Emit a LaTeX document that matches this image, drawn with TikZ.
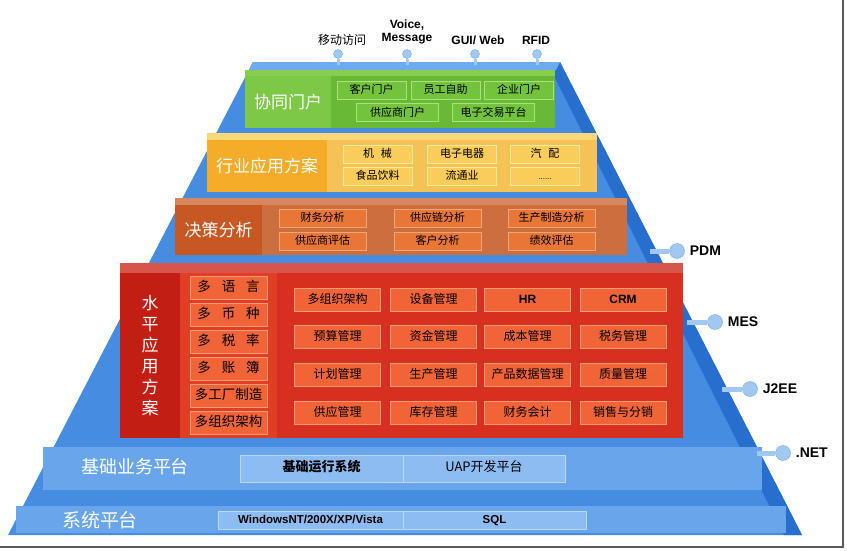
\documentclass[tikz,border=0pt]{standalone}
\usepackage{fontspec}
\setmainfont{Liberation Sans}
\newfontfamily\cjk{Noto Sans CJK SC}
\usetikzlibrary{positioning}
\definecolor{pyrblue}{RGB}{70,140,225}
\definecolor{pyrdark}{RGB}{40,110,205}
\definecolor{pyrtop}{RGB}{110,170,240}
\definecolor{bandblue}{RGB}{105,165,235}
\definecolor{boxblue}{RGB}{140,188,242}
\definecolor{boxedge}{RGB}{185,215,250}
\definecolor{pinblue}{RGB}{160,200,240}
\definecolor{pinedge}{RGB}{120,170,225}
\definecolor{grnpanel}{RGB}{105,185,55}
\definecolor{grntop}{RGB}{135,205,80}
\definecolor{grntitle}{RGB}{125,200,70}
\definecolor{grnitem}{RGB}{115,195,60}
\definecolor{grnedge}{RGB}{170,225,120}
\definecolor{ylwpanel}{RGB}{245,195,85}
\definecolor{ylwtop}{RGB}{250,215,120}
\definecolor{ylwtitle}{RGB}{245,172,40}
\definecolor{ylwitem}{RGB}{250,205,90}
\definecolor{ylwedge}{RGB}{255,235,160}
\definecolor{orgpanel}{RGB}{205,110,62}
\definecolor{orgtop}{RGB}{215,135,95}
\definecolor{orgtitle}{RGB}{200,88,35}
\definecolor{orgitem}{RGB}{232,118,55}
\definecolor{orgedge}{RGB}{245,165,115}
\definecolor{redpanel}{RGB}{215,48,32}
\definecolor{redtop}{RGB}{215,85,75}
\definecolor{redtitle}{RGB}{195,30,20}
\definecolor{redlist}{RGB}{225,62,38}
\definecolor{reditem}{RGB}{240,100,55}
\definecolor{rededge}{RGB}{250,155,115}

\begin{document}
\begin{tikzpicture}[x=1pt, y=-1pt,
    panel/.style={inner sep=0pt},
    title/.style={inner sep=0pt, text=white, font=\cjk\fontsize{17}{17}\selectfont},
    item/.style={draw, line width=1pt, inner sep=0pt, minimum height=18pt, text height=0.85em, text depth=0.15em, font=\cjk\fontsize{11}{11}\selectfont},
    greenitem/.style={item, fill=grnitem, draw=grnedge, minimum width=69pt},
    yellowitem/.style={item, fill=ylwitem, draw=ylwedge, minimum width=69pt},
    orangeitem/.style={item, fill=orgitem, draw=orgedge, minimum width=87pt},
    listitem/.style={item, fill=reditem, draw=rededge, minimum width=77pt, minimum height=23pt, font=\cjk\fontsize{13.5}{13.5}\selectfont},
    reditembox/.style={item, fill=reditem, draw=rededge, minimum width=86pt, minimum height=23pt, font=\cjk\fontsize{12}{12}\selectfont},
    band/.style={inner sep=0pt, fill=bandblue},
    bandtitle/.style={inner sep=0pt, text=white, font=\cjk\fontsize{18}{18}\selectfont},
    basebox/.style={draw=boxedge, line width=1pt, fill=boxblue, inner sep=0pt, text height=0.8em, text depth=0.2em, font=\cjk\fontsize{13}{13}\selectfont},
    toplabel/.style={inner sep=1pt, font=\bfseries\fontsize{12}{13}\selectfont, align=center},
    toppin/.style={circle, fill=pinblue, draw=pinedge, inner sep=0pt, minimum size=9pt},
    pin/.style={circle, fill=pinblue, draw=pinedge, inner sep=0pt, minimum size=15pt},
    pinstem/.style={line width=5pt, draw=pinblue},
    pinlabel/.style={inner sep=1pt, font=\bfseries\fontsize{14}{14}\selectfont},
    frame/.style={draw=black!65, line width=1.2pt}
]
    \useasboundingbox (0,0) rectangle (847,550);

    \fill[pyrblue] (253,62) -- (560,62) -- (802,535) -- (8,535) -- cycle;
    \fill[pyrdark] (560,62) -- (802,535) -- (784,535) -- (551,70) -- cycle;
    \fill[pyrtop] (253,62) -- (560,62) -- (556,70) -- (249,70) -- cycle;

    \coordinate (mobtip) at (338,65);
    \coordinate (voicetip) at (407,65);
    \coordinate (guitip) at (475,65);
    \coordinate (rfidtip) at (537,65);
    \node[toppin] (mobpin) at (338,54) {};
    \node[toppin] (voicepin) at (407,54) {};
    \node[toppin] (guipin) at (475,54) {};
    \node[toppin] (rfidpin) at (537,54) {};
    \draw[pinstem, line width=3pt] (mobpin) -- (mobtip);
    \draw[pinstem, line width=3pt] (voicepin) -- (voicetip);
    \draw[pinstem, line width=3pt] (guipin) -- (guitip);
    \draw[pinstem, line width=3pt] (rfidpin) -- (rfidtip);
    \node[toplabel, font=\cjk\fontsize{12}{12}\selectfont] (mobile) at (342,40) {移动访问};
    \node[toplabel] (voice) at (407,32) {Voice,\\Message};
    \node[toplabel] (gui) at (478,40) {GUI/ Web};
    \node[toplabel] (rfid) at (536,40) {RFID};

    \node[band, minimum width=719pt, minimum height=43pt] (bizband) at (402.5,468.5) {};
    \node[bandtitle] (biztitle) at (135,467) {基础业务平台};
    \node[basebox, minimum width=163pt, minimum height=27pt, font=\cjk\bfseries\fontsize{13}{13}\selectfont] (runtime) at (321.5,468.5) {基础运行系统};
    \node[basebox, minimum width=162pt, minimum height=27pt] (uap) at (484,468.5) {UAP开发平台};

    \node[band, minimum width=770pt, minimum height=27pt] (sysband) at (401,519.5) {};
    \node[bandtitle, font=\cjk\fontsize{19}{19}\selectfont] (systitle) at (100,520) {系统平台};
    \node[basebox, minimum width=185pt, minimum height=18pt, font=\bfseries\fontsize{11.5}{11.5}\selectfont] (windows) at (310.5,520) {WindowsNT/200X/XP/Vista};
    \node[basebox, minimum width=183pt, minimum height=18pt, font=\bfseries\fontsize{11.5}{11.5}\selectfont] (sql) at (494.5,520) {SQL};

    \node[panel, fill=redpanel, minimum width=563pt, minimum height=175pt] (horiz) at (401.5,350.5) {};
    \fill[redtop] (horiz.north west) rectangle ([yshift=-10pt]horiz.north east);
    \node[title, fill=redtitle, minimum width=60pt, minimum height=165pt, align=center, font=\cjk\fontsize{17}{21}\selectfont] (horiztitle) at (150,355.5) {水\\平\\应\\用\\方\\案};
    \node[panel, fill=redlist, minimum width=97pt, minimum height=165pt] (multi) at (228.5,355.5) {};
    \node[listitem] (lang) at (228.5,288) {多\hspace{0.8em}语\hspace{0.8em}言};
    \node[listitem] (currency) at (228.5,315) {多\hspace{0.8em}币\hspace{0.8em}种};
    \node[listitem] (taxrate) at (228.5,342) {多\hspace{0.8em}税\hspace{0.8em}率};
    \node[listitem] (ledger) at (228.5,369) {多\hspace{0.8em}账\hspace{0.8em}簿};
    \node[listitem] (plant) at (228.5,396) {多工厂制造};
    \node[listitem] (multiorg) at (228.5,423) {多组织架构};

    \node[reditembox] (orgarch) at (337.5,299.5) {多组织架构};
    \node[reditembox] (equip) at (433.5,299.5) {设备管理};
    \node[reditembox, font=\bfseries\fontsize{12}{12}\selectfont] (hr) at (527.5,299.5) {HR};
    \node[reditembox, font=\bfseries\fontsize{12}{12}\selectfont] (crm) at (623,299.5) {CRM};
    \node[reditembox] (budget) at (337.5,337) {预算管理};
    \node[reditembox] (fund) at (433.5,337) {资金管理};
    \node[reditembox] (cost) at (527.5,337) {成本管理};
    \node[reditembox] (tax) at (623,337) {税务管理};
    \node[reditembox] (plan) at (337.5,374.5) {计划管理};
    \node[reditembox] (prod) at (433.5,374.5) {生产管理};
    \node[reditembox] (pdata) at (527.5,374.5) {产品数据管理};
    \node[reditembox] (quality) at (623,374.5) {质量管理};
    \node[reditembox] (supply) at (337.5,413) {供应管理};
    \node[reditembox] (stock) at (433.5,413) {库存管理};
    \node[reditembox] (account) at (527.5,413) {财务会计};
    \node[reditembox] (sales) at (623,413) {销售与分销};

    \node[panel, fill=orgpanel, minimum width=452pt, minimum height=57pt] (decision) at (401,226.5) {};
    \fill[orgtop] (decision.north west) rectangle ([yshift=-7pt]decision.north east);
    \node[title, fill=orgtitle, minimum width=87pt, minimum height=50pt] (decisiontitle) at (218.5,230) {决策分析};
    \node[orangeitem] (finana) at (322.5,218) {财务分析};
    \node[orangeitem] (scana) at (437.5,218) {供应链分析};
    \node[orangeitem] (mfgana) at (551.5,218) {生产制造分析};
    \node[orangeitem] (suppeval) at (322.5,241) {供应商评估};
    \node[orangeitem] (custana) at (437.5,241) {客户分析};
    \node[orangeitem] (perfeval) at (551.5,241) {绩效评估};

    \node[panel, fill=ylwpanel, minimum width=390pt, minimum height=59pt] (industry) at (402,162.5) {};
    \fill[ylwtop] (industry.north west) rectangle ([yshift=-7pt]industry.north east);
    \node[title, fill=ylwtitle, minimum width=120pt, minimum height=52pt] (industrytitle) at (267,166) {行业应用方案};
    \node[yellowitem] (machine) at (377.5,154) {机\hspace{0.6em}械};
    \node[yellowitem] (electro) at (462,154) {电子电器};
    \node[yellowitem] (auto) at (545,154) {汽\hspace{0.6em}配};
    \node[yellowitem] (food) at (377.5,176) {食品饮料};
    \node[yellowitem] (retail) at (462,176) {流通业};
    \node[yellowitem, font=\fontsize{8}{8}\selectfont] (more) at (545,176) {......};

    \node[panel, fill=grnpanel, minimum width=310pt, minimum height=58pt] (portal) at (400,99) {};
    \fill[grntop] (portal.north west) rectangle ([yshift=-6pt]portal.north east);
    \node[title, fill=grntitle, minimum width=86pt, minimum height=52pt] (portaltitle) at (288,102) {协同门户};
    \node[greenitem] (custportal) at (371.5,90) {客户门户};
    \node[greenitem] (selfserv) at (445.5,90) {员工自助};
    \node[greenitem] (entportal) at (519,90) {企业门户};
    \node[greenitem, minimum width=82pt] (suppportal) at (397.5,112.5) {供应商门户};
    \node[greenitem, minimum width=82pt] (etrade) at (493.5,112.5) {电子交易平台};

    \coordinate (pdmtip) at (650,251);
    \coordinate (mestip) at (687,322);
    \coordinate (j2eetip) at (722,389);
    \coordinate (nettip) at (757,453);
    \node[pin] (pdmpin) at (677,251) {};
    \node[pin] (mespin) at (715,322) {};
    \node[pin] (j2eepin) at (750,389) {};
    \node[pin] (netpin) at (783,453) {};
    \draw[pinstem] (pdmtip) -- (pdmpin);
    \draw[pinstem] (mestip) -- (mespin);
    \draw[pinstem] (j2eetip) -- (j2eepin);
    \draw[pinstem] (nettip) -- (netpin);
    \node[pinlabel, right=4pt of pdmpin] (pdm) {PDM};
    \node[pinlabel, right=4pt of mespin] (mes) {MES};
    \node[pinlabel, right=4pt of j2eepin] (j2ee) {J2EE};
    \node[pinlabel, right=4pt of netpin] (net) {.NET};

    \draw[frame] (843,0) -- (843,547) -- (0,547);
\end{tikzpicture}
\end{document}
